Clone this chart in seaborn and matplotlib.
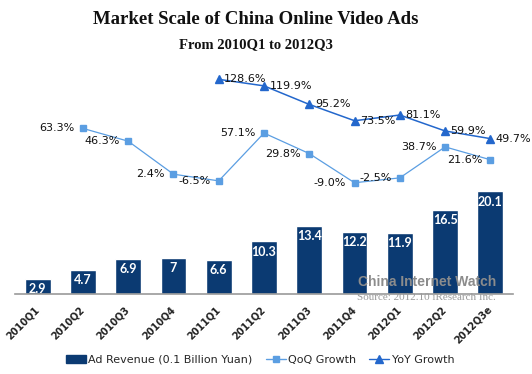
import seaborn as sns
import matplotlib.pyplot as plt
from matplotlib.patches import Patch
from matplotlib.lines import Line2D

# data
quarters = ['2010Q1', '2010Q2', '2010Q3', '2010Q4', '2011Q1', '2011Q2',
            '2011Q3', '2011Q4', '2012Q1', '2012Q2', '2012Q3e']
revenue = [2.9, 4.7, 6.9, 7, 6.6, 10.3, 13.4, 12.2, 11.9, 16.5, 20.1]
revenue_labels = ['2.9', '4.7', '6.9', '7', '6.6', '10.3', '13.4', '12.2', '11.9', '16.5', '20.1']
qoq_quarters = quarters[1:]
qoq = [63.3, 46.3, 2.4, -6.5, 57.1, 29.8, -9.0, -2.5, 38.7, 21.6]
yoy_quarters = quarters[4:]
yoy = [128.6, 119.9, 95.2, 73.5, 81.1, 59.9, 49.7]

navy = '#0b3a72'
qoq_color = '#5b9ee2'
yoy_color = '#2367cc'

sns.set_style('white')
plt.rcParams['font.family'] = ['DejaVu Sans']

fig = plt.figure(figsize=(5.32, 3.74), dpi=100)
ax = fig.add_axes([15 / 532, 1 - 294 / 374, 498 / 532, 224 / 374])

sns.barplot(x=quarters, y=revenue, color=navy, saturation=1, width=0.57, ax=ax)
ax.set_ylim(0, 43.9)
ax.set_xlim(-0.5, len(quarters) - 0.5)

# value labels inside the bars
for i, (v, lab) in enumerate(zip(revenue, revenue_labels)):
    ax.annotate(lab, (i, v), xytext=(0, -3), textcoords='offset points',
                ha='center', va='top', color='white', fontsize=9, fontweight='bold',
                family='Lato')

ax.set_xticks(range(len(quarters)))
ax.set_xticklabels(quarters, rotation=45, ha='right', va='center', rotation_mode='anchor',
                   fontsize=7, fontweight='bold', color='#222222')
ax.tick_params(axis='x', length=0, pad=10)
ax.set_yticks([])
ax.set_xlabel('')
ax.set_ylabel('')
for s in ['top', 'left', 'right']:
    ax.spines[s].set_visible(False)
ax.spines['bottom'].set_color('#9a9a9a')
ax.spines['bottom'].set_linewidth(1.2)

# growth lines on a second axis
ax2 = ax.twinx()
qoq_x = [quarters.index(q) for q in qoq_quarters]
yoy_x = [quarters.index(q) for q in yoy_quarters]
ax2.plot(qoq_x, qoq, color=qoq_color, lw=0.9, marker='s', ms=5)
ax2.plot(yoy_x, yoy, color=yoy_color, lw=1.1, marker='^', ms=5.5)
ax2.set_ylim(-157, 141)
ax2.set_yticks([])
for s in ax2.spines.values():
    s.set_visible(False)

for x, v in zip(qoq_x, qoq):
    ax2.annotate(f'{v:.1f}%', (x, v), xytext=(-6, 0), textcoords='offset points',
                 ha='right', va='center', fontsize=8, color='#111111')
for x, v in zip(yoy_x, yoy):
    ax2.annotate(f'{v:.1f}%', (x, v), xytext=(4, 0), textcoords='offset points',
                 ha='left', va='center', fontsize=8, color='#111111')

# titles
fig.text(256 / 532, 1 - 20 / 374, 'Market Scale of China Online Video Ads', ha='center', va='center',
         family='Liberation Serif', fontweight='bold', fontsize=13.5, color='#111111')
fig.text(256 / 532, 1 - 45 / 374, 'From 2010Q1 to 2012Q3', ha='center', va='center',
         family='Liberation Serif', fontweight='bold', fontsize=10.5, color='#111111')

# watermark and source
fig.text(496 / 532, 1 - 282 / 374, 'China Internet Watch', ha='right', va='center',
         family='Liberation Sans', fontweight='bold', fontsize=10, color='#8c8c8c')
fig.text(496 / 532, 1 - 298 / 374, 'Source: 2012.10 iResearch Inc.', ha='right', va='center',
         family='Liberation Serif', fontsize=8, color='#9a9a9a')

handles = [Patch(color=navy),
           Line2D([], [], color=qoq_color, marker='s', ms=5, lw=1),
           Line2D([], [], color=yoy_color, marker='^', ms=5.5, lw=1)]
labels = ['Ad Revenue (0.1 Billion Yuan)', 'QoQ Growth', 'YoY Growth']
fig.legend(handles, labels, loc='center', bbox_to_anchor=(260 / 532, 1 - 360 / 374), ncol=3,
           frameon=False, fontsize=8, handlelength=1.8, handletextpad=0.2, columnspacing=1.2)

fig.savefig('out.png', dpi=100)
